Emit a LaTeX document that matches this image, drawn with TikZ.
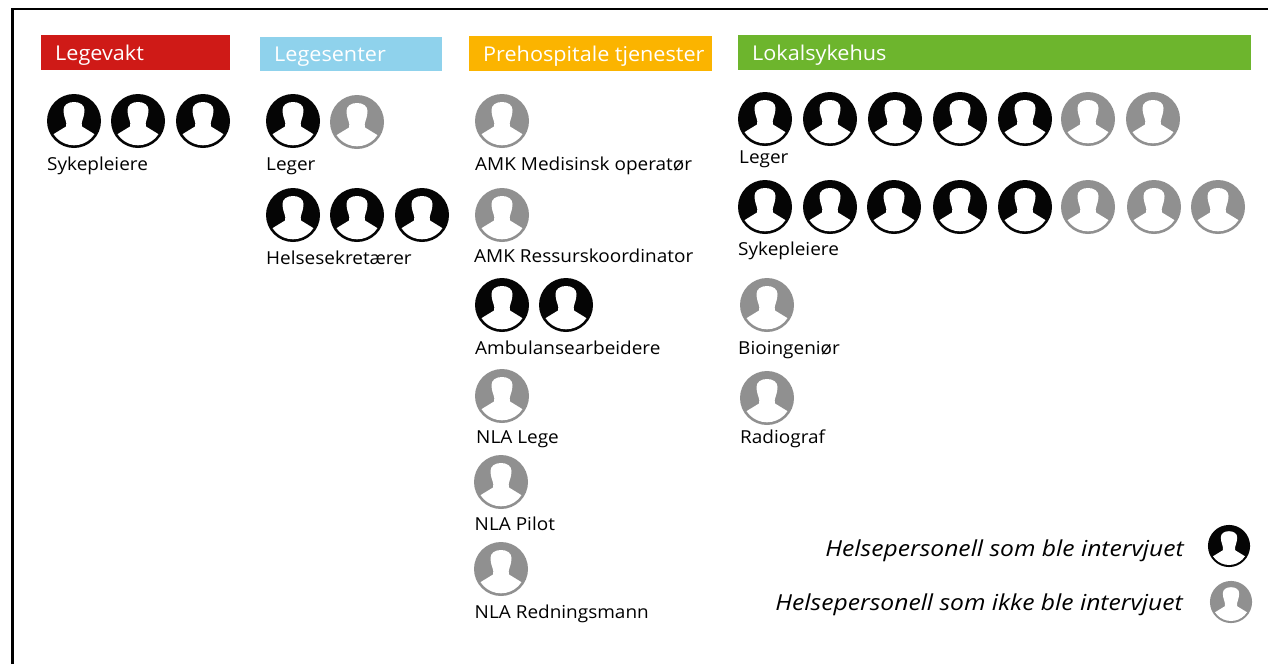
\documentclass[tikz,border=0pt]{standalone}
\usepackage{fontspec}
\setmainfont[FakeStretch=1.06]{Open Sans}
\newfontfamily\legendfont[FakeStretch=1.12]{Open Sans}
\definecolor{cred}{HTML}{CF1A17}
\definecolor{cblue}{HTML}{8FD2EC}
\definecolor{corange}{HTML}{FBB400}
\definecolor{cgreen}{HTML}{6DB52D}
\definecolor{cgray}{HTML}{909090}
\definecolor{cblack}{HTML}{050505}
\tikzset{
  header/.style={anchor=base west,text=white,font=\fontsize{20.4}{20}\selectfont,inner sep=0pt},
  lbl/.style={anchor=base west,text=black,font=\fontsize{17.9}{18}\selectfont,inner sep=0pt},
  legendlbl/.style={anchor=base east,text=black,font=\legendfont\itshape\fontsize{22}{22}\selectfont,inner sep=0pt},
  person/.pic={
    \fill[fill=\pgfkeysvalueof{/tikz/personcolor}] (0,0) circle (27);
    \begin{scope}
      \clip (0,0) circle (24.3);
      \fill[white] (-8.5,-1) .. controls (-10,-5) and (-10.5,-9) .. (-10.5,-11)
        .. controls (-10.5,-16) and (-6,-19) .. (0,-19)
        .. controls (6,-19) and (10.5,-16) .. (10.5,-11)
        .. controls (10.5,-9) and (10,-5) .. (8.5,-1)
        .. controls (7.5,1) and (7.5,3) .. (8,5.5)
        -- (30,19) -- (30,40) -- (-30,40) -- (-30,19) -- (-8,5.5)
        .. controls (-7.5,3) and (-7.5,1) .. (-8.5,-1) -- cycle;
    \end{scope}
  },
  personcolor/.initial=cblack,
  blackp/.style={personcolor=cblack},
  grayp/.style={personcolor=cgray},
}
\newcommand{\blk}[2]{\pic[blackp] at (#1,#2) {person};}
\newcommand{\gry}[2]{\pic[grayp] at (#1,#2) {person};}
\begin{document}
\begin{tikzpicture}[x=1pt,y=-1pt]
\useasboundingbox (0,0) rectangle (1268,664);
\fill[white] (0,0) rectangle (1268,664);
\draw[black,line width=2.6pt] (12.4,664) -- (12.4,8.8) -- (1268,8.8);
% headers
\fill[cred] (41,35) rectangle (230,70);
\fill[cblue] (260,37) rectangle (442,71);
\fill[corange] (469,36) rectangle (712,71);
\fill[cgreen] (738,35) rectangle (1251,70);
\node[header] (hLegevakt) at (55,60) {Legevakt};
\node[header] (hLegesenter) at (274,61) {Legesenter};
\node[header] (hPrehosp) at (483,61) {Prehospitale tjenester};
\node[header] (hLokal) at (752,60) {Lokalsykehus};
% Legevakt
\blk{74}{121}\blk{138}{121}\blk{203}{121}
\node[lbl] (a1) at (47,170) {Sykepleiere};
% Legesenter
\blk{293}{121}\gry{357}{122}
\node[lbl] (b1) at (266,170) {Leger};
\blk{293}{215}\blk{357}{215}\blk{422}{215}
\node[lbl] (b2) at (266,264) {Helsesekretærer};
% Prehospitale
\gry{502}{121}
\node[lbl] (c1) at (475,170) {AMK Medisinsk operatør};
\gry{502}{215}
\node[lbl] (c2) at (474,262) {AMK Ressurskoordinator};
\blk{502}{305}\blk{566}{305}
\node[lbl] (c3) at (475,354) {Ambulansearbeidere};
\gry{502}{396}
\node[lbl] (c4) at (476,443) {NLA Lege};
\gry{501}{482}
\node[lbl] (c5) at (474.5,530) {NLA Pilot};
\gry{501}{569}
\node[lbl] (c6) at (474.5,618) {NLA Redningsmann};
% Lokalsykehus
\blk{765}{119}\blk{830}{119}\blk{895}{119}\blk{960}{119}\blk{1025}{119}\gry{1088}{119}\gry{1153}{119}
\node[lbl] (d1) at (739,163) {Leger};
\blk{765}{207}\blk{830}{207}\blk{894}{207}\blk{960}{207}\blk{1025}{207}\gry{1088}{207}\gry{1154}{207}\gry{1218}{207}
\node[lbl] (d2) at (738,255) {Sykepleiere};
\gry{767}{305}
\node[lbl] (d3) at (738,354) {Bioingeniør};
\gry{767}{398}
\node[lbl] (d4) at (740,443) {Radiograf};
% legend
\node[legendlbl] (l1) at (1184,556) {Helsepersonell som ble intervjuet};
\node[legendlbl] (l2) at (1183,610) {Helsepersonell som ikke ble intervjuet};
\pic[blackp,scale=0.78] at (1229,546) {person};
\pic[grayp,scale=0.78] at (1231,602) {person};
\end{tikzpicture}
\end{document}
